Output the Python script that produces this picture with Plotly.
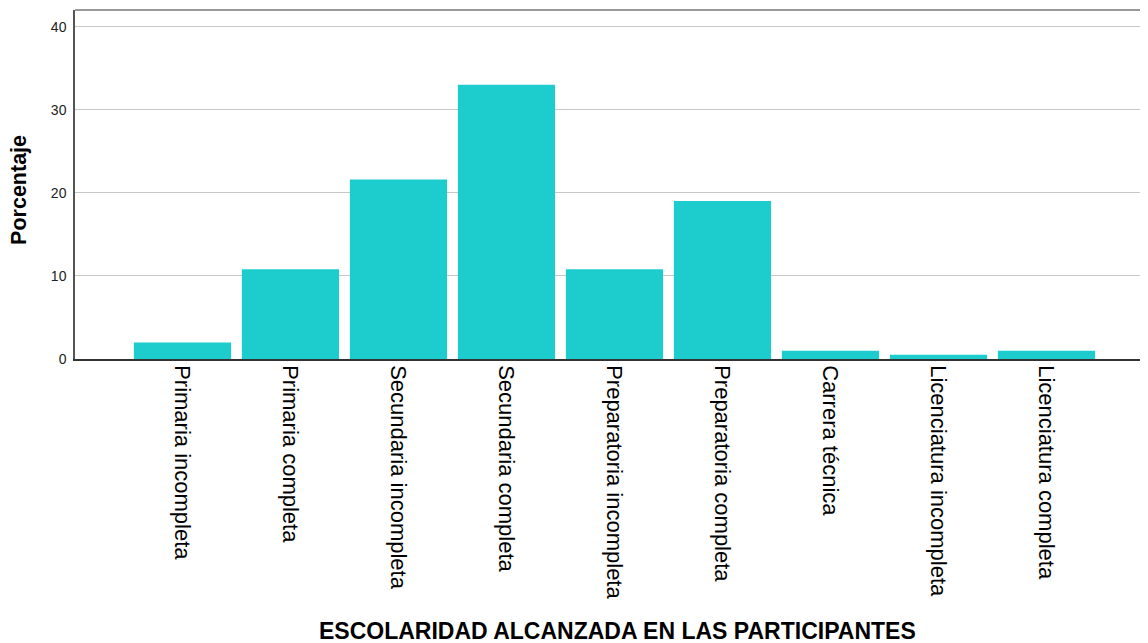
import plotly.graph_objects as go

categories = ["Primaria incompleta", "Primaria completa", "Secundaria incompleta",
              "Secundaria completa", "Preparatoria incompleta", "Preparatoria completa",
              "Carrera técnica", "Licenciatura incompleta", "Licenciatura completa"]
porcentaje = [2.0, 10.8, 21.6, 33.0, 10.8, 19.0, 1.0, 0.5, 1.0]
y_ticks = [0, 10, 20, 30, 40]

fig = go.Figure(go.Bar(x=categories, y=porcentaje, marker_color="#1DCDCD",
                       marker_line_width=0))

fig.update_layout(
    width=1140, height=635,
    margin=dict(l=67, r=0, t=2, b=284),
    paper_bgcolor="white", plot_bgcolor="white",
    bargap=0.1,
    font=dict(family="Liberation Sans, Arial, sans-serif", color="#000"),
    showlegend=False,
    xaxis=dict(
        range=[-0.995, 8.94], tickangle=90, tickfont=dict(size=22, color="#000"),
        showline=True, linecolor="#333", linewidth=1.5, ticks="", showgrid=False,
    ),
    yaxis=dict(
        range=[0, 42], tickvals=y_ticks, tickfont=dict(size=14, color="#222"),
        showline=True, linecolor="#555", linewidth=1.5, ticks="",
        showgrid=True, gridcolor="#c8c8c8", gridwidth=1, zeroline=False,
        ticklabelstandoff=4,
    ),
    shapes=[dict(type="line", xref="paper", yref="paper", x0=0, x1=1, y0=1, y1=1,
                 line=dict(color="#777", width=1.5))],
    annotations=[
        dict(text="<b>ESCOLARIDAD ALCANZADA EN LAS PARTICIPANTES</b>",
             xref="paper", yref="paper", x=0.506, y=-0.778,
             xanchor="center", yanchor="middle", showarrow=False,
             font=dict(size=23, color="#000")),
        dict(text="<b>Porcentaje</b>", textangle=-90,
             xref="paper", yref="paper", x=-0.0516, y=0.4835,
             xanchor="center", yanchor="middle", showarrow=False,
             font=dict(size=21.5, color="#000")),
    ],
)

fig.write_html("out.html")
